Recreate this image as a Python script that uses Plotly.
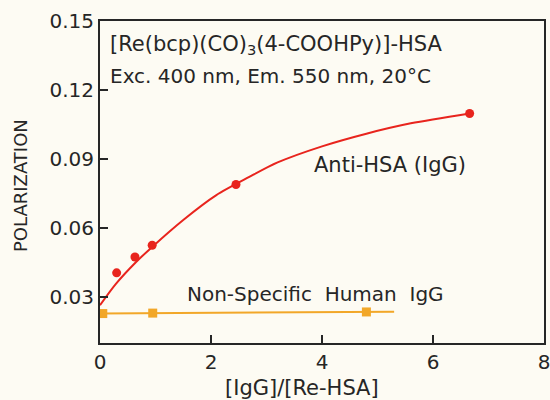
import plotly.graph_objects as go

# Data
anti_x = [0.30, 0.63, 0.94, 2.45, 6.66]
anti_y = [0.0405, 0.0474, 0.0525, 0.0789, 0.1098]

fit_x = [0.0, 0.29, 0.65, 0.95, 1.5, 2.09, 2.69, 3.2, 4.0, 4.8, 5.6, 6.66]
fit_y = [0.0264, 0.0358, 0.0452, 0.0520, 0.0635, 0.0742, 0.0822, 0.0885, 0.0955, 0.1010, 0.1055, 0.1098]

ns_x = [0.05, 0.95, 4.8]
ns_y = [0.0228, 0.0230, 0.0235]
ns_line_x = [0.0, 5.3]
ns_line_y = [0.0228, 0.0236]

x_ticks = [0, 2, 4, 6, 8]
y_ticks = [0.03, 0.06, 0.09, 0.12, 0.15]
y_tick_labels = ["0.03", "0.06", "0.09", "0.12", "0.15"]

RED = "#e8241d"
ORANGE = "#f2a728"
INK = "#262626"
BG = "#fdfbf3"
FONT = "DejaVu Sans"

fig = go.Figure()
fig.add_trace(go.Scatter(x=fit_x, y=fit_y, mode="lines",
                         line=dict(color=RED, width=2, shape="spline", smoothing=0.8),
                         hoverinfo="skip", showlegend=False))
fig.add_trace(go.Scatter(x=anti_x, y=anti_y, mode="markers",
                         marker=dict(color=RED, size=9, symbol="circle"),
                         showlegend=False))
fig.add_trace(go.Scatter(x=ns_line_x, y=ns_line_y, mode="lines",
                         line=dict(color=ORANGE, width=2),
                         hoverinfo="skip", showlegend=False))
fig.add_trace(go.Scatter(x=ns_x, y=ns_y, mode="markers",
                         marker=dict(color=ORANGE, size=9, symbol="square"),
                         showlegend=False))

txt = dict(family=FONT, size=20, color=INK)
txt21 = dict(family=FONT, size=21, color=INK)
fig.add_annotation(x=0.14, y=0.1395, xref="x", yref="y", xanchor="left", yanchor="middle",
                   text="[Re(bcp)(CO)<sub>3</sub>(4-COOHPy)]-HSA", showarrow=False, font=txt21)
fig.add_annotation(x=0.14, y=0.126, xref="x", yref="y", xanchor="left", yanchor="middle",
                   text="Exc. 400 nm, Em. 550 nm, 20°C", showarrow=False, font=txt)
fig.add_annotation(x=5.22, y=0.0873, xref="x", yref="y", xanchor="center", yanchor="middle",
                   text="Anti-HSA (IgG)", showarrow=False, font=txt21)
fig.add_annotation(x=3.88, y=0.0312, xref="x", yref="y", xanchor="center", yanchor="middle",
                   text="Non-Specific  Human  IgG", showarrow=False, font=txt)

# axis titles placed as annotations in paper coordinates
fig.add_annotation(x=302, y=388, xref="paper", yref="paper", showarrow=False,
                   text="[IgG]/[Re-HSA]", font=txt21, xanchor="center", yanchor="middle")
fig.add_annotation(x=20, y=186, xref="paper", yref="paper", showarrow=False,
                   text="POLARIZATION", font=dict(family=FONT, size=18, color=INK),
                   textangle=-90, xanchor="center", yanchor="middle")

# convert pixel-positioned annotations to paper fractions
W, H = 550, 400
L, R, T, B = 100, 6, 21, 57
pw, ph = W - L - R, H - T - B
for a in fig.layout.annotations:
    if a.xref == "paper":
        a.x = (a.x - L) / pw
        a.y = (H - B - a.y) / ph

axis_common = dict(showgrid=False, zeroline=False, showline=True, linecolor=INK,
                   linewidth=2, mirror=True, ticks="inside", ticklen=8, tickwidth=2,
                   tickcolor=INK, tickfont=dict(family=FONT, size=20, color=INK),
                   automargin=False, ticklabeloverflow="allow")

fig.update_layout(
    width=W, height=H,
    margin=dict(l=L, r=R, t=T, b=B),
    paper_bgcolor=BG, plot_bgcolor=BG,
    xaxis=dict(range=[0, 8], tickvals=x_ticks, ticktext=[str(v) for v in x_ticks],
               **axis_common),
    yaxis=dict(range=[0.01, 0.15], tickvals=y_ticks, ticktext=y_tick_labels,
               **axis_common),
)

page_style = ("document.body.style.margin='0';"
              "document.body.style.background='" + BG + "';"
              "document.body.style.overflow='hidden';")
fig.write_html("out.html", post_script=page_style, config={"displayModeBar": False})
